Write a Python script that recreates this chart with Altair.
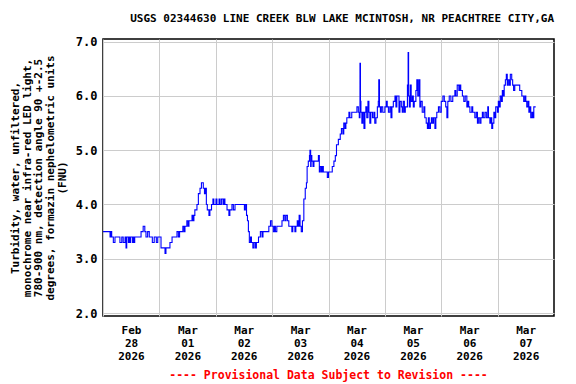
import altair as alt
import pandas as pd

# ---- data (hours after 2026-02-28 00:00, turbidity FNU) ----
hours = [0, 3.0, 3.4, 3.7, 4.4, 5.1, 7.2, 8.0, 8.6, 9.4, 9.8, 10.1, 10.8, 11.1, 11.5, 11.8,
         12.6, 12.9, 13.2, 13.5, 16.2, 17.1, 17.8, 18.3, 19.0, 19.7, 21.0, 21.8, 22.7, 23.3,
         24.7, 26.4, 26.8, 28.5, 29.4, 31.5, 32.1, 32.6, 34.0, 34.5, 34.9, 35.7, 36.2, 36.6,
         37.9, 38.3, 38.7, 39.1, 40.0, 40.6, 41.3, 41.9, 42.7, 43.2, 43.6, 44.0, 44.4, 45.1,
         45.5, 46.2, 46.8, 47.2, 48.1, 48.5, 49.4, 49.8, 50.4, 51.1, 51.5, 51.9, 52.8, 53.6,
         54.0, 54.9, 55.5, 56.2, 60.2, 60.6, 61.1, 61.5, 61.9, 62.3, 62.8, 63.2, 63.8, 64.3,
         64.9, 65.3, 66.2, 67.0, 67.7, 68.1, 70.6, 71.3, 71.9, 72.5, 73.0, 73.4, 74.0, 76.2,
         76.8, 77.4, 77.9, 78.5, 79.1, 80.4, 80.8, 81.7, 82.1, 82.7, 83.1, 83.5, 83.9, 84.4,
         84.9, 85.5, 86.1, 86.6, 86.9, 87.4, 87.9, 88.1, 88.4, 88.6, 88.9, 89.4, 89.8, 91.7,
         92.1, 92.5, 93.0, 93.4, 93.8, 95.5, 96.0, 97.6, 98.3, 98.9, 99.4, 100.2, 101.0, 101.5,
         102.1, 102.5, 103.0, 103.4, 103.8, 104.7, 105.1, 105.9, 108.1, 108.7, 109.1, 109.4,
         109.6, 109.8, 110.2, 110.6, 111.1, 111.5, 111.9, 112.3, 112.8, 113.2, 113.6, 114.0,
         114.7, 115.3, 115.7, 116.2, 116.8, 117.2, 117.4, 117.7, 118.1, 118.5, 119.1, 120.0,
         120.6, 121.0, 121.5, 122.1, 122.6, 123.0, 123.6, 124.3, 124.7, 125.1, 126.0, 126.4,
         127.0, 127.4, 127.8, 128.3, 128.7, 129.6, 129.9, 130.1, 130.4, 130.8, 131.2, 131.7,
         132.1, 132.5, 133.2, 133.6, 134.0, 134.5, 134.9, 135.3, 135.9, 136.6, 137.0, 137.6,
         138.1, 138.5, 138.9, 139.4, 139.8, 140.2, 140.7, 141.3, 141.7, 142.1, 142.8, 143.4,
         144.0, 144.7, 145.3, 145.9, 146.4, 146.8, 147.4, 148.1, 148.9, 149.8, 150.2, 150.8,
         151.5, 151.9, 152.3, 153.0, 153.6, 154.2, 154.9, 155.3, 155.7, 156.2, 157.0, 157.4,
         158.3, 158.9, 159.4, 159.8, 160.4, 160.9, 161.5, 161.9, 162.6, 163.2, 163.8, 164.1,
         164.7, 165.1, 165.5, 165.9, 166.4, 166.8, 167.2, 167.9, 168.3, 168.7, 169.1, 169.6,
         170.0, 170.4, 170.8, 171.3, 171.7, 172.1, 172.5, 173.0, 173.4, 174.0, 174.4, 174.8,
         175.3, 177.4, 178.3, 179.1, 179.6, 180.0, 180.4, 180.9, 181.3, 181.7, 182.1, 182.6,
         183.0, 183.4, 184.2]

fnu = [3.5, 3.4, 3.5, 3.4, 3.3, 3.4, 3.3, 3.4, 3.3, 3.4, 3.2, 3.4, 3.3, 3.4, 3.3, 3.4,
       3.3, 3.4, 3.3, 3.4, 3.5, 3.6, 3.5, 3.4, 3.5, 3.4, 3.3, 3.4, 3.3, 3.4,
       3.2, 3.1, 3.2, 3.3, 3.4, 3.5, 3.4, 3.5, 3.6, 3.5, 3.6, 3.7, 3.6, 3.7,
       3.8, 3.7, 3.8, 3.9, 4.0, 4.2, 4.3, 4.4, 4.3, 4.2, 4.3, 4.0, 3.9, 3.8,
       3.9, 4.0, 4.1, 4.0, 4.1, 4.0, 4.1, 4.0, 4.1, 4.0, 4.1, 4.0, 3.9, 3.8,
       3.9, 4.0, 3.9, 4.0, 3.9, 4.0, 3.8, 3.7, 3.5, 3.3, 3.4, 3.3, 3.2, 3.3,
       3.2, 3.3, 3.4, 3.5, 3.4, 3.5, 3.6, 3.7, 3.6, 3.5, 3.6, 3.5, 3.6, 3.7,
       3.8, 3.7, 3.8, 3.7, 3.6, 3.5, 3.6, 3.5, 3.6, 3.7, 3.6, 3.8, 3.6, 3.5,
       3.7, 4.1, 4.3, 4.4, 4.7, 4.8, 4.9, 5.0, 4.7, 4.9, 4.8, 4.7, 4.8, 4.9,
       4.6, 4.7, 4.6, 4.7, 4.6, 4.5, 4.6, 4.7, 4.8, 4.9, 5.1, 5.2, 5.3, 5.4,
       5.3, 5.5, 5.4, 5.5, 5.6, 5.7, 5.6, 5.7, 5.8, 5.7, 5.6, 6.6,
       5.9, 5.7, 5.5, 5.7, 5.4, 5.7, 5.8, 5.6, 5.9, 5.7, 5.5, 5.7,
       5.6, 5.7, 5.5, 5.6, 5.8, 5.9, 6.3, 5.8, 5.7, 5.8, 5.7, 5.8,
       5.9, 5.8, 5.7, 5.8, 5.6, 5.8, 5.9, 6.0, 5.8, 6.0, 5.7, 5.9,
       5.8, 5.7, 5.9, 5.7, 5.8, 6.2, 6.8, 6.0, 5.8, 6.2, 5.9, 6.0,
       5.8, 5.9, 6.1, 6.3, 6.0, 6.3, 5.8, 5.9, 5.7, 5.8, 5.6, 5.5,
       5.4, 5.6, 5.4, 5.5, 5.6, 5.5, 5.6, 5.4, 5.6, 5.7, 5.8, 5.7,
       5.9, 6.0, 5.9, 5.8, 5.6, 5.9, 6.0, 5.9, 6.0, 6.1, 6.0, 6.2,
       6.1, 6.2, 6.1, 6.0, 5.9, 6.0, 5.8, 5.9, 5.8, 5.7, 5.8, 5.7,
       5.6, 5.7, 5.5, 5.6, 5.5, 5.6, 5.7, 5.6, 5.7, 5.6, 5.8, 5.6,
       5.5, 5.6, 5.4, 5.5, 5.7, 5.6, 5.8, 5.7, 5.9, 5.8, 6.0, 5.9,
       6.1, 6.0, 6.2, 6.3, 6.4, 6.2, 6.3, 6.2, 6.4, 6.3, 6.2, 6.1,
       6.2, 6.1, 6.0, 5.9, 6.0, 5.9, 5.8, 5.9, 5.7, 5.8, 5.6, 5.7,
       5.6, 5.8, 5.8]

y_ticks = [2.0, 3.0, 4.0, 5.0, 6.0, 7.0]
day_ticks = [(2, 28), (3, 1), (3, 2), (3, 3), (3, 4), (3, 5), (3, 6), (3, 7)]
title_text = "USGS 02344630 LINE CREEK BLW LAKE MCINTOSH, NR PEACHTREE CITY,GA"
y_title = ["Turbidity, water, unfiltered,",
           "monochrome near infra-red LED light,",
           "780-900 nm, detection angle 90 +-2.5",
           "degrees, formazin nephelometric units",
           "(FNU)"]
footer = ["---- Provisional Data Subject to Revision ----"]

start = pd.Timestamp("2026-02-28 00:00:00")
times = [(start + pd.Timedelta(hours=h)).strftime("%Y-%m-%dT%H:%M:%S") for h in hours]
df = pd.DataFrame({"time": times, "fnu": fnu})

FONT = "DejaVu Sans Mono"
W, H = 451, 277

x_axis = alt.Axis(
    values=[alt.DateTime(year=2026, month=m, date=d) for m, d in day_ticks],
    grid=True, gridColor="#cccccc", gridWidth=1,
    ticks=False, domain=False,
    labelOffset=28, labelFlush=False, labelOverlap=False,
    labelExpr="[timeFormat(datum.value, '%b'), timeFormat(datum.value, '%d'), timeFormat(datum.value, '%Y')]",
    labelFont=FONT, labelFontSize=11, labelFontWeight="bold", labelColor="black",
    labelPadding=8, labelLineHeight=13, title=None,
)
y_axis = alt.Axis(
    values=y_ticks, format=".1f",
    grid=True, gridColor="#cccccc", gridWidth=1,
    ticks=False, domain=False,
    labelFont=FONT, labelFontSize=12, labelFontWeight="bold", labelColor="black",
    labelPadding=6,
    title=y_title, titleFont=FONT, titleFontSize=11, titleFontWeight="bold",
    titleColor="black", titleLineHeight=11.7, titlePadding=8,
)

line = alt.Chart(df).mark_line(color="#0000ff", strokeWidth=1.1, interpolate="step-after").encode(
    x=alt.X("time:T",
            scale=alt.Scale(domain=[alt.DateTime(year=2026, month=2, date=28),
                                    alt.DateTime(year=2026, month=3, date=8)]),
            axis=x_axis),
    y=alt.Y("fnu:Q", scale=alt.Scale(domain=[1.945, 7.05], nice=False, zero=False), axis=y_axis),
)

foot = alt.Chart(pd.DataFrame({"t": footer})).mark_text(
    color="#ff0000", font=FONT, fontSize=11.5, fontWeight="bold", baseline="middle", align="center"
).encode(text="t:N", x=alt.value(W / 2), y=alt.value(336.5))

chart = alt.layer(line, foot).properties(
    width=W, height=H,
    title=alt.TitleParams(title_text, font=FONT, fontSize=11, fontWeight="bold", color="black",
                          anchor="end", offset=12),
    autosize=alt.AutoSizeParams(type="none"),
    padding={"left": 95, "top": 31, "right": 14, "bottom": 66},
).configure_view(stroke="black", strokeWidth=1.5)

chart.save("out.html", embed_options={"renderer": "svg", "actions": False})
